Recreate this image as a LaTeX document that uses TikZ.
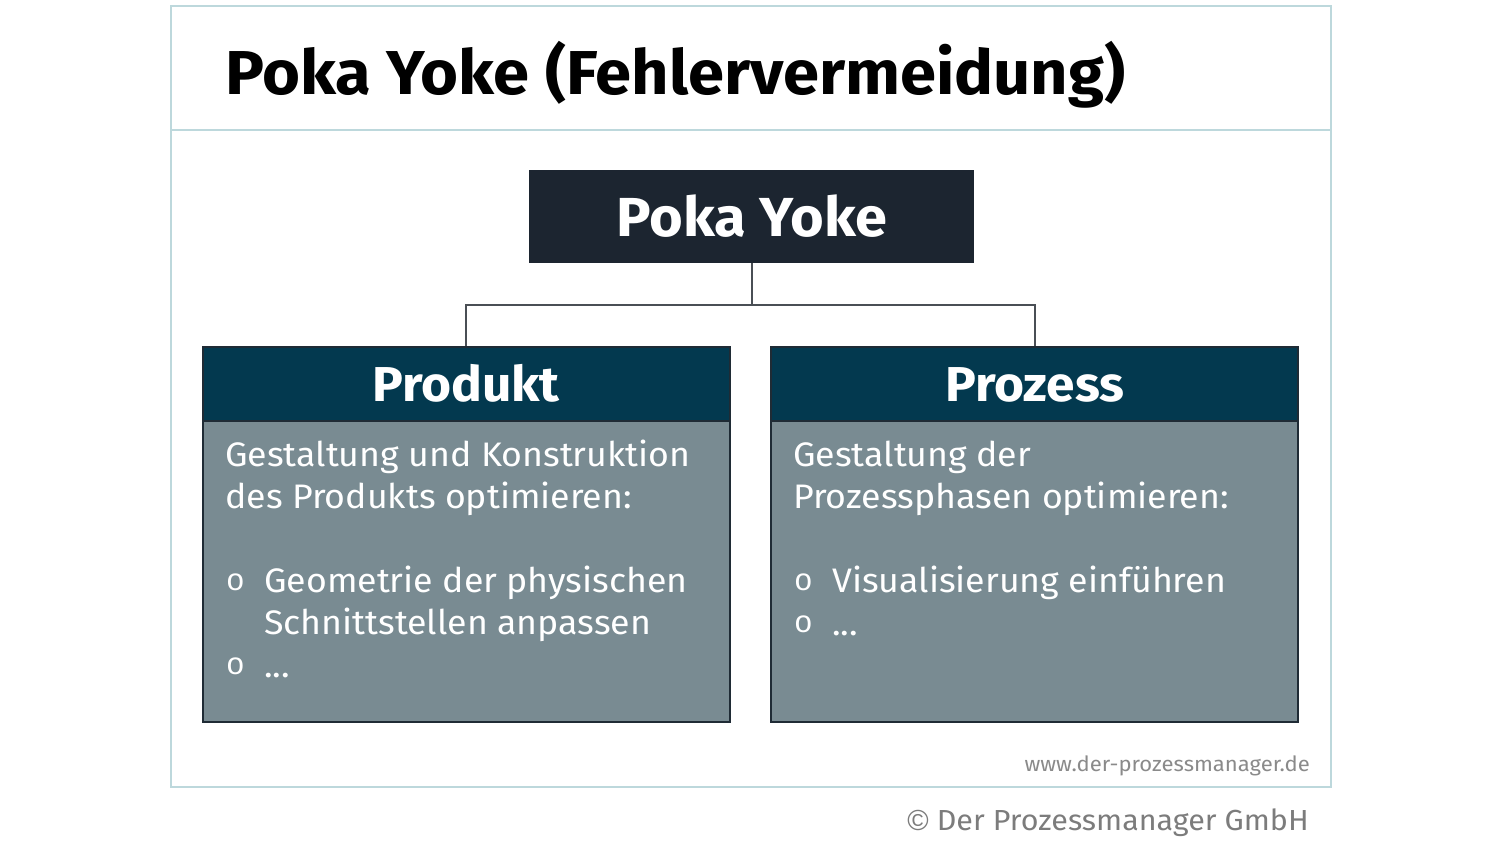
\documentclass[tikz,border=0pt]{standalone}
\usepackage{fontspec}
\setmainfont{Fira Sans}
\newfontfamily\bodyfont{Fira Sans}[FakeStretch=1.05]
\newfontfamily\headfont{Fira Sans}[UprightFont=* Bold, FakeStretch=1.05]
\newfontfamily\bulfont{Liberation Mono}
\newfontfamily\symfont{Liberation Sans}
\definecolor{framec}{HTML}{BDD8DC}
\definecolor{rootc}{HTML}{1C2530}
\definecolor{headc}{HTML}{03394F}
\definecolor{bodyc}{HTML}{798B92}
\definecolor{borderc}{HTML}{1F2B35}
\definecolor{linec}{HTML}{4A4F55}
\definecolor{footc}{HTML}{8A8A8A}
\tikzset{
  bodytxt/.style={anchor=base west, inner sep=0pt, text=white, font=\bodyfont\fontsize{34}{42}\selectfont},
  bul/.style={anchor=base west, inner sep=0pt, text=white, font=\bulfont\fontsize{31}{31}\selectfont},
  headtxt/.style={anchor=base, inner sep=0pt, text=white, font=\headfont\fontsize{49}{52}\selectfont},
  conn/.style={draw=linec, line width=1.6pt},
  boxhead/.style={fill=headc, draw=borderc, line width=2.5pt},
  boxbody/.style={fill=bodyc, draw=borderc, line width=2.5pt}
}
\begin{document}
\begin{tikzpicture}[x=1pt,y=-1pt]
\useasboundingbox (0,0) rectangle (1500,850);
\fill[white] (0,0) rectangle (1500,850);
% frame
\draw[framec, line width=2.5pt] (171,6) rectangle (1331,787);
\draw[framec, line width=2.5pt] (171,130) -- (1331,130);
\node[anchor=base west, inner sep=0pt, font=\headfont\fontsize{62}{66}\selectfont] (title) at (225,95) {Poka Yoke (Fehlervermeidung)};
% root
\fill[rootc] (529,170) rectangle (974,263);
\node[anchor=base, inner sep=0pt, text=white, font=\headfont\fontsize{55}{60}\selectfont] (root) at (752,237) {Poka Yoke};
\coordinate (rootb) at (752,263);
\coordinate (lt) at (466,347);
\coordinate (rt) at (1035,347);
\draw[conn] (rootb) -- (752,305) -- (466,305) -- (lt);
\draw[conn] (752,305) -- (1035,305) -- (rt);
% left box
\draw[boxbody] (203,421) rectangle (730,722);
\draw[boxhead] (203,347) rectangle (730,421);
\node[headtxt] (prod) at (466,401) {Produkt};
\node[bodytxt] (pl1) at (225,466) {Gestaltung und Konstruktion};
\node[bodytxt] (pl2) at (225,508) {des Produkts optimieren:};
\node[bul] (pb1) at (226,590) {o};
\node[bodytxt] (pt1) at (264,592) {Geometrie der physischen};
\node[bodytxt] (pt1b) at (264,634) {Schnittstellen anpassen};
\node[bul] (pb2) at (226,674) {o};
\node[bodytxt] (pt2) at (264,677) {...};
% right box
\draw[boxbody] (771,421) rectangle (1298,722);
\draw[boxhead] (771,347) rectangle (1298,421);
\node[headtxt] (proz) at (1035,401) {Prozess};
\node[bodytxt] (rl1) at (793,466) {Gestaltung der};
\node[bodytxt] (rl2) at (793,508) {Prozessphasen optimieren:};
\node[bul] (rb1) at (794,590) {o};
\node[bodytxt] (rt1) at (832,592) {Visualisierung einführen};
\node[bul] (rb2) at (794,632) {o};
\node[bodytxt] (rt2) at (832,635) {...};
% footer
\node[anchor=base east, inner sep=0pt, text=footc, font=\bodyfont\fontsize{21}{24}\selectfont] (www) at (1310,771) {www.der-prozessmanager.de};
\node[anchor=base east, inner sep=0pt, text=footc!90!black, font=\bodyfont\fontsize{29}{32}\selectfont] (copy) at (1309,830) {{\symfont ©} Der Prozessmanager GmbH};
\end{tikzpicture}
\end{document}
